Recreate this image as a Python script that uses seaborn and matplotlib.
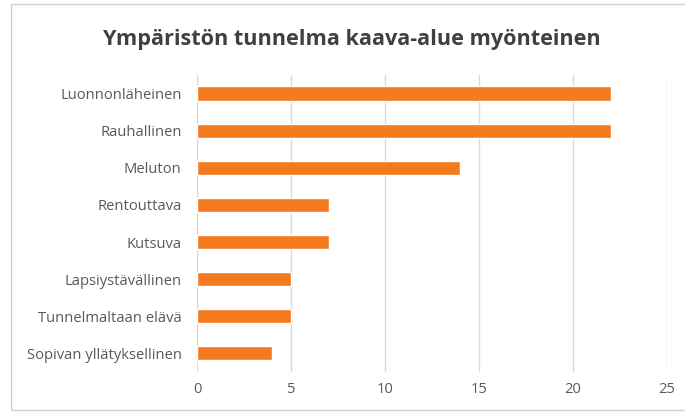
import numpy as np
import matplotlib
matplotlib.use("Agg")
import matplotlib.pyplot as plt
import pandas as pd
import seaborn as sns
from matplotlib.patches import Rectangle

# chart data
categories = ["Luonnonläheinen", "Rauhallinen", "Meluton", "Rentouttava",
              "Kutsuva", "Lapsiystävällinen", "Tunnelmaltaan elävä",
              "Sopivan yllätyksellinen"]
counts = [22, 22, 14, 7, 7, 5, 5, 4]
x_ticks = [0, 5, 10, 15, 20, 25]
title = "Ympäristön tunnelma kaava-alue myönteinen"

df = pd.DataFrame({"category": categories, "count": counts})

sns.set_theme(style="white")
plt.rcParams["font.family"] = ["Open Sans", "DejaVu Sans"]

fig = plt.figure(figsize=(6.85, 4.12), dpi=100)
ax = fig.add_axes([0.2876, 0.0971, 0.6861, 0.7209])

sns.barplot(data=df, x="count", y="category", orient="h", color="#F47A20",
            saturation=1, width=0.38, ax=ax, zorder=3)

ax.set_xlim(0, 25)
ax.set_ylim(7.5, -0.5)
ax.set_xticks(x_ticks)
ax.xaxis.grid(True, color="#D9D9D9", linewidth=1, zorder=0)
ax.yaxis.grid(False)
for s in ax.spines.values():
    s.set_visible(False)
ax.set_xlabel("")
ax.set_ylabel("")
ax.tick_params(axis="both", length=0, labelsize=10.6, labelcolor="#595959")
ax.tick_params(axis="x", pad=7)
ax.tick_params(axis="y", pad=11)

fig.text(0.514, 0.903, title, ha="center", va="center", fontsize=15.6,
         fontweight="bold", color="#404040")

# chart frame
fig.patches.append(Rectangle((11 / 685, 2 / 412), 1.0, 406 / 412,
                             transform=fig.transFigure, fill=False,
                             edgecolor="#D0D0D0", linewidth=1))

fig.savefig("out.png", dpi=100, facecolor="white")
